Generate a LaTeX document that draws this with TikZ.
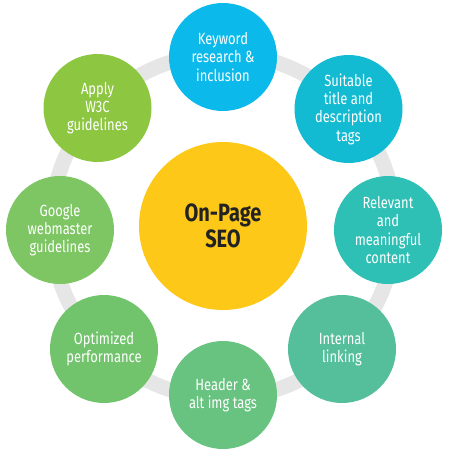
\documentclass[tikz,border=0pt]{standalone}
\usepackage{fontspec}
\setmainfont{Fira Sans}[FakeStretch=0.8]
\definecolor{ckw}{HTML}{0BBAEA}
\definecolor{csu}{HTML}{12BBD2}
\definecolor{cre}{HTML}{2EC0B5}
\definecolor{cin}{HTML}{55BF9C}
\definecolor{che}{HTML}{68C380}
\definecolor{cop}{HTML}{72C46C}
\definecolor{cgo}{HTML}{7DC663}
\definecolor{cap}{HTML}{8DC641}
\definecolor{ccen}{HTML}{FDC818}
\definecolor{cring}{HTML}{E6E6E6}
\definecolor{ctxt}{HTML}{222222}
\begin{document}
\begin{tikzpicture}[x=1pt,y=1pt,
  sat/.style={circle, minimum size=108pt, inner sep=0pt, align=center, text=white,
    font={\fontsize{16.2}{18.3}\selectfont}},
  hub/.style={circle, minimum size=168pt, inner sep=0pt, align=center, fill=ccen, text=ctxt,
    font={\fontsize{25}{26.5}\selectfont\bfseries}}]
\useasboundingbox (0,0) rectangle (450,-452);
\coordinate (o) at (223,-226);
\draw[cring, line width=15pt] (o) circle (172pt);
\node[hub] (seo) at (o) {On-Page\\SEO};
\node[sat, fill=ckw] (kw) at (223,-57) {Keyword\\research \&\\inclusion};
\node[sat, fill=csu] (su) at (348.5,-109) {Suitable\\title and\\description\\tags};
\node[sat, fill=cre] (re) at (388,-230) {Relevant\\and\\meaningful\\content};
\node[sat, fill=cin] (in) at (342,-349) {Internal\\linking};
\node[sat, fill=che] (he) at (223,-395) {Header \&\\alt img tags};
\node[sat, fill=cop] (op) at (104,-349) {Optimized\\performance};
\node[sat, fill=cgo] (go) at (60,-230) {Google\\webmaster\\guidelines};
\node[sat, fill=cap] (ap) at (97.5,-108) {Apply\\W3C\\guidelines};
\end{tikzpicture}
\end{document}
